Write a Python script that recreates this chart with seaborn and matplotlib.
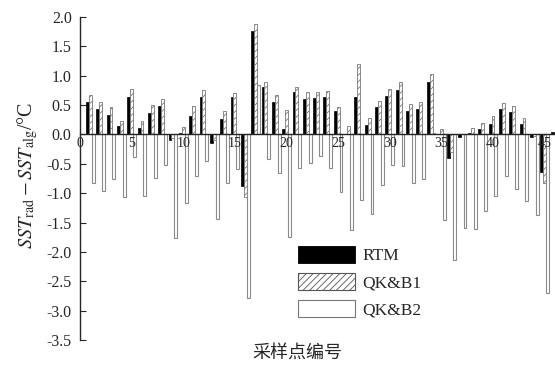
import numpy as np
import pandas as pd
import matplotlib
matplotlib.use("Agg")
import matplotlib.pyplot as plt
from matplotlib.patches import Patch
import seaborn as sns

# 采样点编号 1..46
points = list(range(1, 47))

rtm = [0.56, 0.44, 0.33, 0.14, 0.63, 0.11, 0.36, 0.48, -0.10, 0.03,
       0.31, 0.64, -0.15, 0.26, 0.63, -0.87, 1.76, 0.80, 0.55, 0.10,
       0.73, 0.60, 0.62, 0.64, 0.40, 0.00, 0.63, 0.16, 0.46, 0.65,
       0.75, 0.40, 0.44, 0.90, 0.00, -0.40, -0.04, 0.02, 0.09, 0.17,
       0.43, 0.38, 0.17, -0.05, -0.64, 0.05]

qkb1 = [0.67, 0.55, 0.46, 0.23, 0.77, 0.23, 0.50, 0.61, -0.06, 0.12,
        0.48, 0.75, -0.10, 0.40, 0.70, -1.06, 1.88, 0.90, 0.67, 0.41,
        0.81, 0.73, 0.73, 0.74, 0.47, 0.14, 1.20, 0.28, 0.57, 0.78,
        0.90, 0.52, 0.56, 1.03, 0.09, -0.30, 0.00, 0.11, 0.19, 0.31,
        0.54, 0.48, 0.28, -0.02, -0.83, 0.00]

qkb2 = [-0.82, -0.96, -0.75, -1.06, -0.38, -1.05, -0.74, -0.52, -1.77, -1.16,
        -0.70, -0.45, -1.44, -0.82, -0.58, -2.78, 0.84, -0.41, -0.65, -1.75,
        -0.57, -0.48, -0.37, -0.57, -0.98, -1.63, -1.12, -1.36, -0.86, -0.52,
        -0.53, -0.82, -0.76, 0.02, -1.46, -2.14, -1.60, -1.61, -1.30, -1.04,
        -0.70, -0.93, -1.14, -1.38, -2.70, -0.90]

methods = ["RTM", "QK&B1", "QK&B2"]
xticks = [0, 5, 10, 15, 20, 25, 30, 35, 40, 45]
yticks = [-3.5, -3.0, -2.5, -2.0, -1.5, -1.0, -0.5, 0.0, 0.5, 1.0, 1.5, 2.0]

df = pd.DataFrame({
    "point": points * 3,
    "value": rtm + qkb1 + qkb2,
    "method": [m for m in methods for _ in points],
})

sns.set_style("ticks")
plt.rcParams.update({
    "font.family": ["Liberation Serif", "Noto Sans CJK SC"],
    "mathtext.fontset": "stix",
    "axes.unicode_minus": False,
    "hatch.color": "#444444",
    "hatch.linewidth": 0.6,
})

fig = plt.figure(figsize=(5.55, 3.66), dpi=100)
ax = fig.add_axes([80 / 555, 1 - 340 / 366, 1 - 80 / 555, (340 - 17) / 366])

sns.barplot(data=df, x="point", y="value", hue="method", hue_order=methods,
            native_scale=True, errorbar=None, width=0.84, legend=False,
            palette=["black", "white", "white"], ax=ax)

styles = [
    dict(fc="black", ec="black", hatch=None, lw=0.5),
    dict(fc="white", ec="#777777", hatch="/////", lw=0.6),
    dict(fc="white", ec="#8a8a8a", hatch=None, lw=0.8),
]
for cont, st in zip(ax.containers, styles):
    for p in cont.patches:
        p.set_facecolor(st["fc"])
        p.set_edgecolor(st["ec"])
        p.set_linewidth(st["lw"])
        p.set_zorder(1)
        if st["hatch"]:
            p.set_hatch(st["hatch"])

ax.set_axisbelow(False)
ax.set_xlim(0, 46.0)
ax.set_ylim(-3.5, 2.0)
ax.set_yticks(yticks)
ax.set_yticklabels([f"{v:.1f}" for v in yticks], fontsize=11.5)
ax.set_xticks(xticks)
ax.set_xticklabels([str(v) for v in xticks], fontsize=11.5)
ax.tick_params(axis="x", length=0, pad=2)
ax.tick_params(axis="y", direction="in", length=4, width=0.8, pad=6)

ax.spines["top"].set_visible(False)
ax.spines["right"].set_visible(False)
ax.spines["bottom"].set_position(("data", 0))
ax.spines["bottom"].set_linewidth(1.0)
ax.spines["left"].set_linewidth(1.0)
ax.set_xlabel("")
ax.set_ylabel("")

fig.text(28 / 555, 1 - 175 / 366,
         r"$\mathit{SST}_{\mathrm{rad}}-\mathit{SST}_{\mathrm{alg}}$/°C",
         rotation=90, ha="center", va="center", fontsize=14.5)
fig.text(297 / 555, 1 - 354 / 366, "采样点编号", ha="center", va="center",
         fontsize=13)

handles = [
    Patch(facecolor="black", edgecolor="black", linewidth=0.6),
    Patch(facecolor="white", edgecolor="#555555", hatch="/////", linewidth=0.8),
    Patch(facecolor="white", edgecolor="#777777", linewidth=0.8),
]
fig.legend(handles, methods, loc="upper left",
           bbox_to_anchor=(298 / 555, 1 - 246 / 366),
           frameon=False, fontsize=12.5, handlelength=3.3, handleheight=1.1,
           handletextpad=0.4, labelspacing=0.5, borderpad=0, borderaxespad=0)

fig.savefig("out.png", dpi=100)
